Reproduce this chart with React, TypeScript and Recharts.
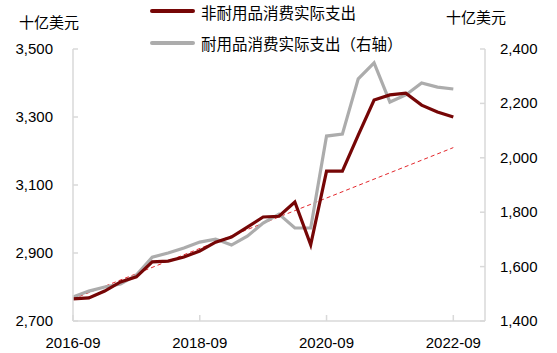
import { LineChart, Line, XAxis, YAxis } from "recharts";

// quarterly, 2016-09 .. 2022-09
const quarters = [
  "2016-09", "2016-12", "2017-03", "2017-06", "2017-09", "2017-12",
  "2018-03", "2018-06", "2018-09", "2018-12", "2019-03", "2019-06",
  "2019-09", "2019-12", "2020-03", "2020-06", "2020-09", "2020-12",
  "2021-03", "2021-06", "2021-09", "2021-12", "2022-03", "2022-06",
  "2022-09",
];

// 非耐用品消费实际支出 (左轴, 十亿美元)
const nonDurable = [
  2765, 2768, 2788, 2815, 2830, 2874, 2876, 2888, 2906, 2932, 2947, 2976,
  3006, 3008, 3050, 2924, 3141, 3141, 3247, 3350, 3365, 3370, 3335, 3315,
  3300,
];

// 耐用品消费实际支出 (右轴, 十亿美元)
const durable = [
  1488, 1510, 1525, 1536, 1569, 1635, 1650, 1668, 1690, 1701, 1679, 1712,
  1760, 1793, 1742, 1742, 2080, 2087, 2290, 2349, 2205, 2231, 2275, 2260,
  2253,
];

// pre-covid trend, first and last quarter only
const trendEnds = [2765, 3210];

const leftTicks = [2700, 2900, 3100, 3300, 3500];
const rightTicks = [1400, 1600, 1800, 2000, 2200, 2400];
const xTickLabels = ["2016-09", "2018-09", "2020-09", "2022-09"];

const rows = quarters.map((q, i) => ({
  i,
  q,
  nonDurable: nonDurable[i],
  durable: durable[i],
  trend: i === 0 ? trendEnds[0] : i === quarters.length - 1 ? trendEnds[1] : null,
}));

const xTicks = xTickLabels.map((l) => quarters.indexOf(l));

const AXIS = "#d9d9d9";
const RED = "#760606";
const GREY = "#acacac";
const FONT = "'Liberation Sans', Arial, 'Noto Sans CJK SC', sans-serif";
const CJK = "'Noto Sans CJK SC', sans-serif";

const fmt = (v: number) => v.toLocaleString("en-US");

const LeftTick = ({ y, payload }: any) => (
  <g>
    <line x1={73} x2={78} y1={y} y2={y} stroke={AXIS} strokeWidth={1.5} />
    <text x={53} y={y + 5} textAnchor="end" fontSize={15} fill="#000" fontFamily={FONT}>
      {fmt(payload.value)}
    </text>
  </g>
);

const RightTick = ({ y, payload }: any) => (
  <g>
    <line x1={480} x2={485} y1={y} y2={y} stroke={AXIS} strokeWidth={1.5} />
    <text x={500} y={y + 5} textAnchor="start" fontSize={15} fill="#000" fontFamily={FONT}>
      {fmt(payload.value)}
    </text>
  </g>
);

const BottomTick = ({ x, payload }: any) => (
  <g>
    <line x1={x} x2={x} y1={321} y2={315} stroke={AXIS} strokeWidth={1.5} />
    <text x={x} y={348} textAnchor="middle" fontSize={15} fill="#000" fontFamily={FONT}>
      {quarters[payload.value]}
    </text>
  </g>
);

export default function App() {
  return (
    <div style={{ position: "absolute", left: 0, top: 0, width: 557, height: 353, background: "#fff" }}>
      <LineChart
        width={557}
        height={353}
        data={rows}
        margin={{ top: 49, right: 0, bottom: 0, left: 0 }}
      >
        <XAxis
          dataKey="i"
          type="number"
          domain={[0, 26]}
          ticks={xTicks}
          interval={0}
          height={32}
          axisLine={{ stroke: AXIS, strokeWidth: 1.5 }}
          tickLine={false}
          tick={<BottomTick />}
        />
        <YAxis
          yAxisId="left"
          domain={[2700, 3500]}
          ticks={leftTicks}
          width={73}
          axisLine={{ stroke: AXIS, strokeWidth: 1.5 }}
          tickLine={false}
          tick={<LeftTick />}
        />
        <YAxis
          yAxisId="right"
          orientation="right"
          domain={[1400, 2400]}
          ticks={rightTicks}
          width={72}
          axisLine={{ stroke: AXIS, strokeWidth: 1.5 }}
          tickLine={false}
          tick={<RightTick />}
        />
        <Line
          yAxisId="left"
          dataKey="trend"
          stroke="#e3262b"
          strokeWidth={1}
          strokeDasharray="4 3"
          dot={false}
          connectNulls
          isAnimationActive={false}
        />
        <Line
          yAxisId="right"
          dataKey="durable"
          stroke={GREY}
          strokeWidth={3.2}
          dot={false}
          isAnimationActive={false}
        />
        <Line
          yAxisId="left"
          dataKey="nonDurable"
          stroke={RED}
          strokeWidth={3.2}
          dot={false}
          isAnimationActive={false}
        />
      </LineChart>

      {/* axis units */}
      <div style={{ position: "absolute", left: 19, top: 11, fontSize: 15, fontFamily: CJK, lineHeight: "22px" }}>
        十亿美元
      </div>
      <div style={{ position: "absolute", left: 446, top: 6, fontSize: 15, fontFamily: CJK, lineHeight: "22px" }}>
        十亿美元
      </div>

      {/* legend */}
      <div style={{ position: "absolute", left: 150, top: 9, width: 45, height: 4, background: RED, borderRadius: 2 }} />
      <div style={{ position: "absolute", left: 201, top: 1, fontSize: 15.5, fontFamily: CJK, lineHeight: "22px" }}>
        非耐用品消费实际支出
      </div>
      <div style={{ position: "absolute", left: 150, top: 41, width: 45, height: 4, background: GREY, borderRadius: 2 }} />
      <div style={{ position: "absolute", left: 201, top: 32, fontSize: 15.5, fontFamily: CJK, lineHeight: "22px" }}>
        耐用品消费实际支出（右轴）
      </div>
    </div>
  );
}
